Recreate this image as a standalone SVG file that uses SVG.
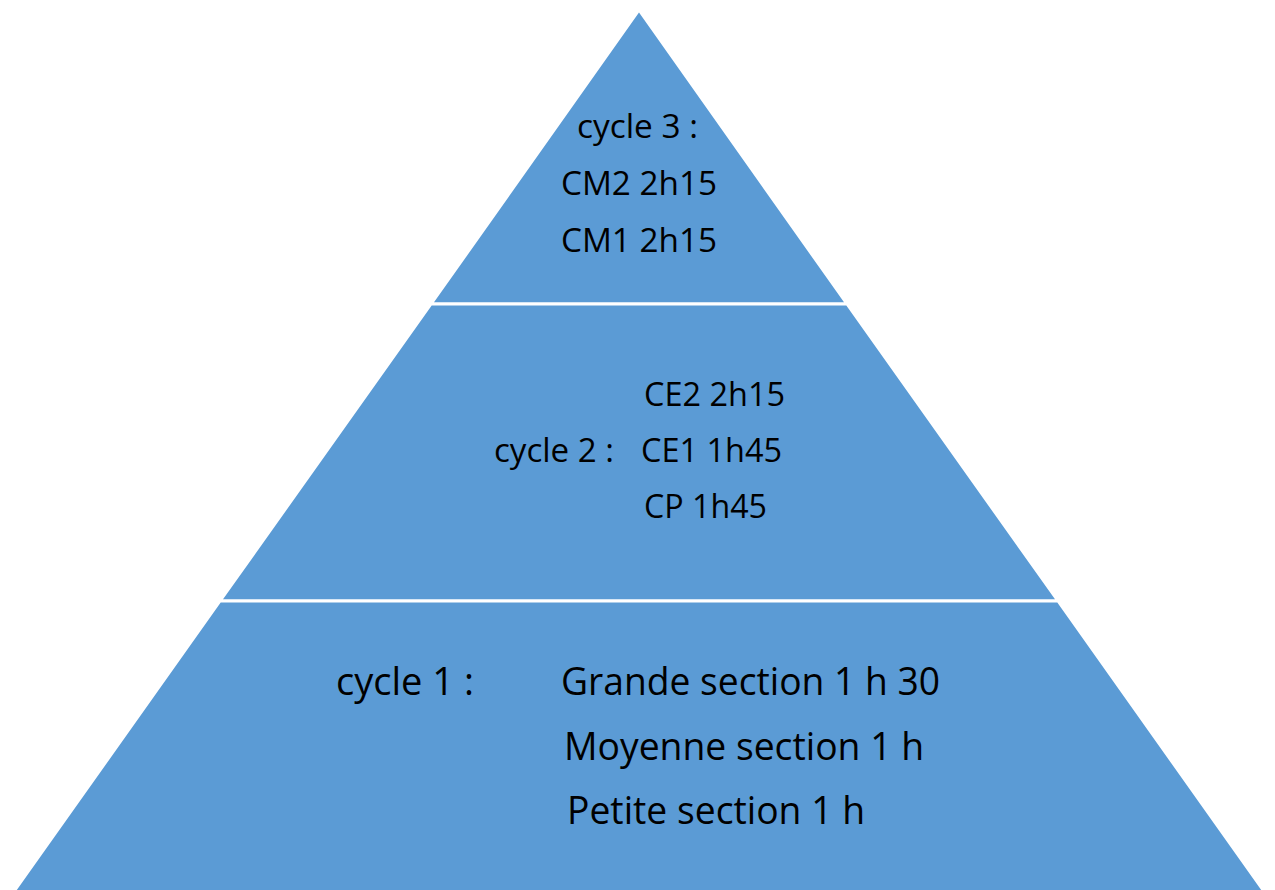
<svg xmlns="http://www.w3.org/2000/svg" width="1275" height="890" viewBox="0 0 1275 890">
  <style>
    .band { fill: #5B9BD5; stroke: #FFFFFF; stroke-width: 3; stroke-linejoin: miter; }
    .t { font-family: "Open Sans", "Liberation Sans", sans-serif; fill: #000000; }
    .s { font-size: 32px; }
    .l { font-size: 38px; }
  </style>
  <rect width="1275" height="890" fill="#FFFFFF"/>
  <g id="cycle3">
    <polygon class="band" points="639,10 847,304 431,304"/>
    <text class="t s" x="577" y="138" textLength="121" lengthAdjust="spacingAndGlyphs">cycle 3 :</text>
    <text class="t s" x="561" y="195" textLength="156" lengthAdjust="spacingAndGlyphs">CM2 2h15</text>
    <text class="t s" x="561" y="252" textLength="156" lengthAdjust="spacingAndGlyphs">CM1 2h15</text>
  </g>
  <g id="cycle2">
    <polygon class="band" points="431,304 847,304 1058,601 220,601"/>
    <text class="t s" x="644" y="406" textLength="141" lengthAdjust="spacingAndGlyphs">CE2 2h15</text>
    <text class="t s" x="494" y="462" textLength="120" lengthAdjust="spacingAndGlyphs">cycle 2 :</text>
    <text class="t s" x="641" y="462" textLength="141" lengthAdjust="spacingAndGlyphs">CE1 1h45</text>
    <text class="t s" x="644" y="518" textLength="123" lengthAdjust="spacingAndGlyphs">CP 1h45</text>
  </g>
  <g id="cycle1">
    <polygon class="band" points="220,601 1058,601 1268,897 10,897"/>
    <text class="t l" x="336" y="695" textLength="138" lengthAdjust="spacingAndGlyphs">cycle 1 :</text>
    <text class="t l" x="561" y="695" textLength="379" lengthAdjust="spacingAndGlyphs">Grande section 1 h 30</text>
    <text class="t l" x="564" y="760" textLength="360" lengthAdjust="spacingAndGlyphs">Moyenne section 1 h</text>
    <text class="t l" x="567" y="824" textLength="298" lengthAdjust="spacingAndGlyphs">Petite section 1 h</text>
  </g>
  <g id="connectors"/>
</svg>
